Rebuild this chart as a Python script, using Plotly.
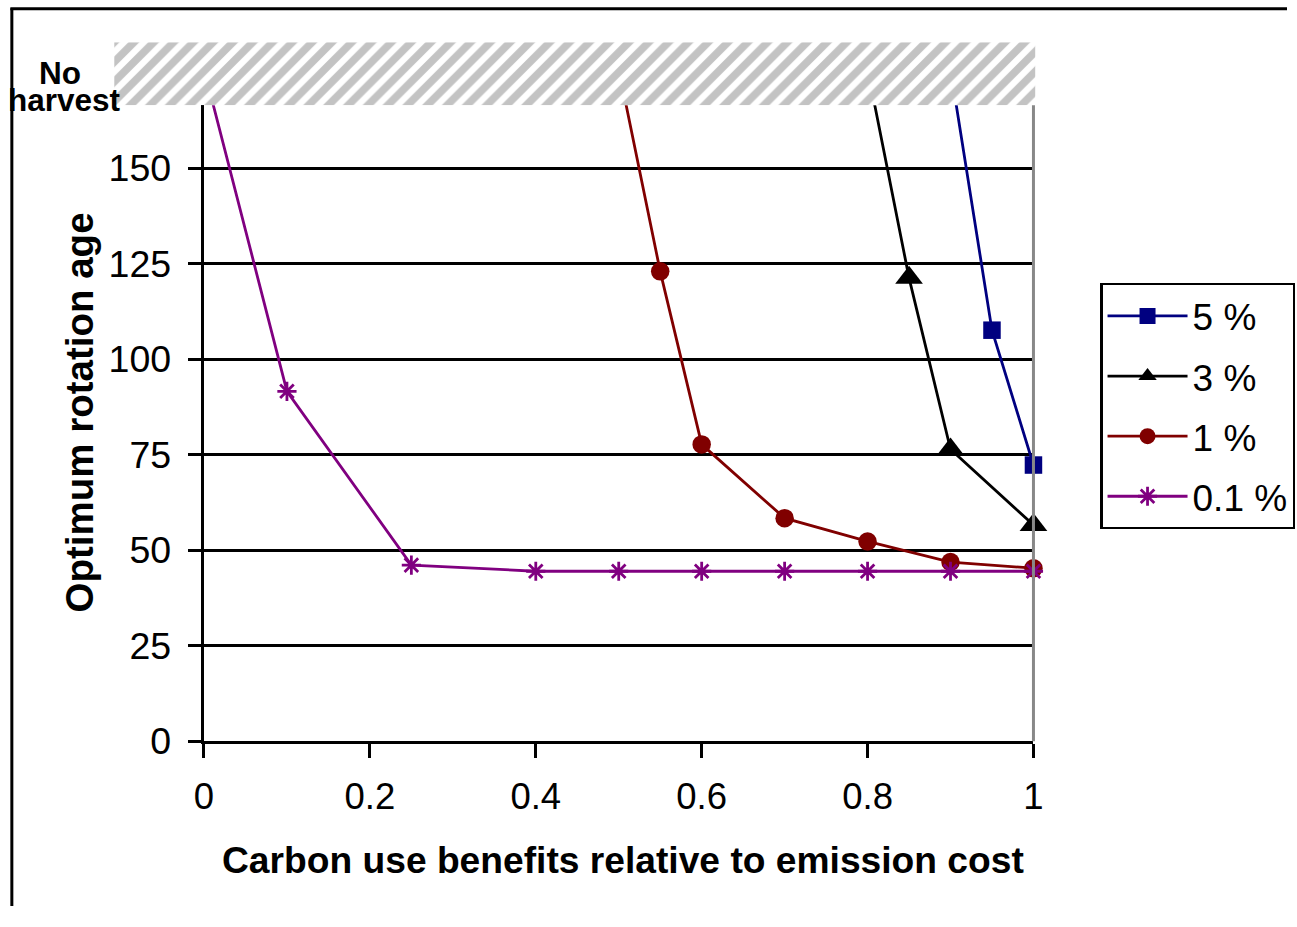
import plotly.graph_objects as go

W, H = 1297, 927

# Value used for "no harvest" points: sits above the visible range, under the hatched band
NO_HARVEST = 176

x_5 = [0.9, 0.95, 1.0]
y_5 = [NO_HARVEST, 107.6, 72.3]

x_3 = [0.8, 0.85, 0.9, 1.0]
y_3 = [NO_HARVEST, 121.3, 76.4, 56.6]

x_1 = [0.5, 0.55, 0.6, 0.7, 0.8, 0.9, 1.0]
y_1 = [NO_HARVEST, 123.0, 77.7, 58.4, 52.3, 46.9, 45.3]

x_01 = [0.0, 0.1, 0.25, 0.4, 0.5, 0.6, 0.7, 0.8, 0.9, 1.0]
y_01 = [NO_HARVEST, 91.6, 46.1, 44.5, 44.5, 44.5, 44.5, 44.5, 44.5, 44.5]

x_ticks = [0, 0.2, 0.4, 0.6, 0.8, 1.0]
x_ticklabels = ["0", "0.2", "0.4", "0.6", "0.8", "1"]
y_ticks = [0, 25, 50, 75, 100, 125, 150]

FONT = "Arial, 'Liberation Sans', sans-serif"

# Layout grid -> paper coordinates
GX0, GSX = 8.65, 0.9864
GY0, GSY = -0.2, 0.9773


def fx(p):
    return ((p - GX0) / GSX) / W


def fy(p):
    return 1 - ((p - GY0) / GSY) / H


series = [
    ("5 %", x_5, y_5, "#000080", "square", 17.5, 0),
    ("3 %", x_3, y_3, "#000000", "triangle-up", 24, 0),
    ("1 %", x_1, y_1, "#800000", "circle", 18.5, 0),
    ("0.1 %", x_01, y_01, "#800080", "asterisk-open", 16, 2.8),
]

fig = go.Figure()

for i, (name, xs, ys, color, symbol, size, mlw) in enumerate(series):
    fig.add_trace(go.Scatter(
        x=xs, y=ys, name=name, mode="lines+markers",
        line=dict(color=color, width=2.8),
        marker=dict(symbol=symbol, size=size, color=color,
                    line=dict(color=color, width=mlw)),
        cliponaxis=False,
        legendgroup=f"g{i}",
        xaxis="x", yaxis="y",
    ))

# Hatched "No harvest" band above the plot area (drawn over the main subplot)
fig.add_trace(go.Scatter(
    x=[0, 1, 1, 0, 0], y=[0, 0, 1, 1, 0],
    mode="lines", fill="toself",
    line=dict(width=0, color="rgba(0,0,0,0)"),
    fillcolor="white",
    fillpattern=dict(shape="/", fgcolor="#878787", bgcolor="white",
                     size=14, solidity=0.55),
    hoverinfo="skip", showlegend=False,
    xaxis="x2", yaxis="y2",
))

x0p, x1p = 203, 1034
y0p, y1p = 741, 105
px_per_unit = 3.82

fig.update_layout(
    width=W, height=H,
    margin=dict(l=0, r=0, t=0, b=0),
    paper_bgcolor="white", plot_bgcolor="white",
    font=dict(family=FONT, size=37, color="black"),
    xaxis=dict(
        domain=[fx(x0p), fx(x1p)],
        range=[0, 1], tickvals=x_ticks, ticktext=x_ticklabels,
        showline=True, linecolor="black", linewidth=2.6,
        ticks="outside", ticklen=13.5, tickwidth=2.6, tickcolor="black",
        showgrid=False, zeroline=False,
        ticklabelstandoff=8,
        tickfont=dict(size=36.5),
    ),
    yaxis=dict(
        domain=[fy(y0p), fy(y1p)],
        range=[0, (y0p - y1p) / px_per_unit],
        tickvals=y_ticks,
        showline=True, linecolor="black", linewidth=2.6,
        ticks="outside", ticklen=13.5, tickwidth=2.6, tickcolor="black",
        showgrid=True, gridcolor="black", gridwidth=2.6,
        zeroline=False,
        ticklabelstandoff=9,
        tickfont=dict(size=37.5),
    ),
    xaxis2=dict(domain=[fx(113), fx(1036)], range=[0, 1], visible=False,
                anchor="y2", fixedrange=True),
    yaxis2=dict(domain=[fy(105), fy(42)], range=[0, 1], visible=False,
                anchor="x2", fixedrange=True),
    legend=dict(
        x=fx(1101), y=fy(283), xanchor="left", yanchor="top",
        bordercolor="black", borderwidth=2.2, bgcolor="white",
        font=dict(size=37, family=FONT),
        traceorder="grouped", tracegroupgap=9,
        itemwidth=80,
    ),
    showlegend=True,
)

# Right border of the plot area
fig.add_shape(type="line", xref="x domain", yref="y domain",
              x0=1, x1=1, y0=0, y1=1, line=dict(color="#888888", width=3))

# Frame lines on the left and top of the figure
fig.add_shape(type="line", xref="paper", yref="paper",
              x0=fx(10.5), x1=fx(10.5), y0=0, y1=fy(8),
              line=dict(color="black", width=3))
fig.add_shape(type="line", xref="paper", yref="paper",
              x0=fx(9), x1=1, y0=fy(8.5), y1=fy(8.5),
              line=dict(color="black", width=3))

# Axis titles
fig.add_annotation(text="<b>Carbon use benefits relative to emission cost</b>",
                   xref="paper", yref="paper", x=fx(623), y=fy(860),
                   showarrow=False, font=dict(size=37.2, family=FONT),
                   xanchor="center", yanchor="middle")
fig.add_annotation(text="<b>Optimum rotation age</b>",
                   xref="paper", yref="paper", x=fx(78), y=fy(412),
                   showarrow=False, textangle=-90, font=dict(size=38.5, family=FONT),
                   xanchor="center", yanchor="middle")

# "No harvest" label beside the hatched band
fig.add_annotation(text="<b>No</b>", xref="paper", yref="paper",
                   x=fx(59), y=fy(73), showarrow=False,
                   font=dict(size=31.5, family=FONT), xanchor="center", yanchor="middle")
fig.add_annotation(text="<b>harvest</b>", xref="paper", yref="paper",
                   x=fx(63), y=fy(100), showarrow=False,
                   font=dict(size=31.5, family=FONT), xanchor="center", yanchor="middle")

fig.write_html("out.html")
